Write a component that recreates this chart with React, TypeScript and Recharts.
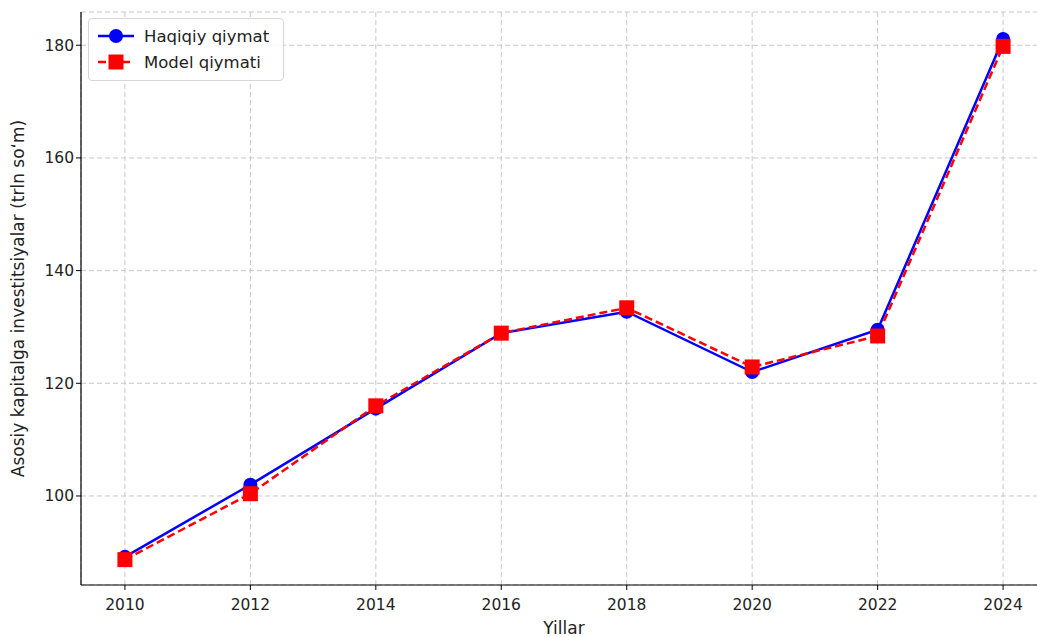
import React from 'react';
import { LineChart, Line, XAxis, YAxis, CartesianGrid } from 'recharts';

const years = [2010, 2012, 2014, 2016, 2018, 2020, 2022, 2024];
const actual = [89.2, 102.0, 115.5, 128.9, 132.7, 122.0, 129.5, 181.1];
const model = [88.7, 100.4, 116.0, 128.9, 133.4, 122.9, 128.4, 179.8];
const yTicks = [100, 120, 140, 160, 180];
const xTicks = [2010, 2012, 2014, 2016, 2018, 2020, 2022, 2024];
const seriesNames = ['Haqiqiy qiymat', 'Model qiymati'];

const data = years.map((y, i) => ({ year: y, actual: actual[i], model: model[i] }));

const FONT = 'DejaVu Sans, sans-serif';

const Square = (props: any) => {
  const { cx, cy, index } = props;
  if (cx == null || cy == null) return <g key={index} />;
  return <rect key={index} x={cx - 7.5} y={cy - 7.5} width={15} height={15} fill="#ff0000" />;
};

const Circle = (props: any) => {
  const { cx, cy, index } = props;
  if (cx == null || cy == null) return <g key={index} />;
  return <circle key={index} cx={cx} cy={cy} r={7} fill="#0000ff" />;
};

const LegendBox = () => (
  <div
    style={{
      position: 'absolute',
      left: 88,
      top: 18,
      width: 196,
      height: 63,
      border: '1px solid #d6d6d6',
      borderRadius: 4,
      background: 'rgba(255,255,255,0.9)',
      fontFamily: FONT,
      fontSize: 16.5,
      color: '#222',
      boxSizing: 'border-box',
    }}
  >
    <div style={{ display: 'flex', alignItems: 'center', height: 26, marginTop: 4 }}>
      <svg width={48} height={20} style={{ marginLeft: 7 }}>
        <line x1={2} y1={10} x2={38} y2={10} stroke="#0000ff" strokeWidth={2.5} />
        <circle cx={20} cy={10} r={7} fill="#0000ff" />
      </svg>
      <span>{seriesNames[0]}</span>
    </div>
    <div style={{ display: 'flex', alignItems: 'center', height: 26 }}>
      <svg width={48} height={20} style={{ marginLeft: 7 }}>
        <line x1={2} y1={10} x2={38} y2={10} stroke="#ff0000" strokeWidth={2.5} strokeDasharray="8 4" />
        <rect x={12.5} y={2.5} width={15} height={15} fill="#ff0000" />
      </svg>
      <span>{seriesNames[1]}</span>
    </div>
  </div>
);

export default function App() {
  return (
    <div
      style={{
        position: 'absolute',
        left: 0,
        top: 0,
        width: 1037,
        height: 637,
        overflow: 'hidden',
        background: '#fff',
      }}
    >
      <LineChart
        width={1060}
        height={637}
        data={data}
        margin={{ top: 12, right: 13, bottom: 22, left: 10 }}
      >
        <CartesianGrid stroke="#c8c8c8" strokeDasharray="5 3" />
        <XAxis
          dataKey="year"
          type="number"
          domain={[2009.3, 2024.7]}
          ticks={xTicks}
          height={30}
          tick={{ fontFamily: FONT, fontSize: 15.5, fill: '#222' }}
          tickLine={{ stroke: '#000' }}
          tickSize={5}
          tickMargin={9}
          axisLine={{ stroke: '#000', strokeWidth: 1.2 }}
          allowDataOverflow
          label={{ value: 'Yillar', position: 'insideBottom', offset: -19, fontFamily: FONT, fontSize: 17, fill: '#222' }}
        />
        <XAxis
          xAxisId="top"
          orientation="top"
          dataKey="year"
          type="number"
          domain={[2009.3, 2024.7]}
          height={0}
          tick={false}
          tickLine={false}
          axisLine={{ stroke: '#000', strokeWidth: 1.2 }}
        />
        <YAxis
          type="number"
          domain={[84.2, 185.9]}
          ticks={yTicks}
          width={71}
          allowDataOverflow
          tick={{ fontFamily: FONT, fontSize: 15.5, fill: '#222' }}
          tickLine={{ stroke: '#000' }}
          tickSize={5}
          axisLine={{ stroke: '#000', strokeWidth: 1.2 }}
          label={{
            value: 'Asosiy kapitalga investitsiyalar (trln so\u2018m)',
            angle: -90,
            position: 'insideLeft',
            offset: 0,
            dx: 8,
            style: { textAnchor: 'middle', fontFamily: FONT, fontSize: 17, fill: '#222' },
          }}
        />
        <Line
          type="linear"
          dataKey="actual"
          name={seriesNames[0]}
          stroke="#0000ff"
          strokeWidth={2.5}
          dot={Circle}
          activeDot={false}
          isAnimationActive={false}
        />
        <Line
          type="linear"
          dataKey="model"
          name={seriesNames[1]}
          stroke="#ff0000"
          strokeWidth={2.5}
          strokeDasharray="8 4"
          dot={Square}
          activeDot={false}
          isAnimationActive={false}
        />
      </LineChart>
      <LegendBox />
    </div>
  );
}
